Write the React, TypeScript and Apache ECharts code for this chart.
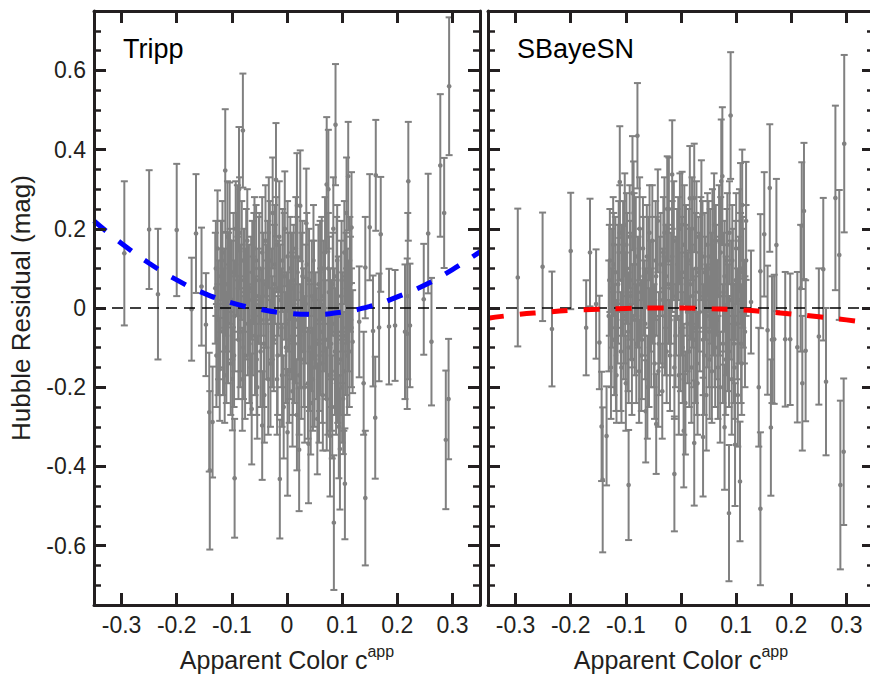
import React, { useEffect, useRef } from 'react';
import * as echarts from 'echarts';

// ---------- data: [colour, residual, error] ----------
const trippOuter: number[][] = [
  [-0.295, 0.138, 0.182], [-0.25, 0.198, 0.15], [-0.234, 0.035, 0.165], [-0.2, 0.197, 0.167],
  [-0.173, -0.003, 0.13], [-0.165, 0.188, 0.15], [-0.155, 0.054, 0.149], [-0.147, -0.042, 0.13],
  [-0.14, -0.41, 0.2], [-0.141, -0.263, 0.15], [-0.135, -0.288, 0.14], [-0.112, 0.347, 0.155],
  [-0.095, -0.43, 0.15], [-0.087, 0.30, 0.157], [-0.08, 0.448, 0.144], [-0.064, -0.255, 0.14],
  [-0.045, -0.297, 0.137], [-0.02, 0.324, 0.143], [-0.013, -0.432, 0.15], [0.001, -0.314, 0.16],
  [0.018, 0.259, 0.132], [0.022, -0.358, 0.155], [0.024, 0.258, 0.14], [0.035, 0.214, 0.138],
  [0.039, -0.343, 0.15], [0.072, 0.312, 0.17], [0.075, 0.30, 0.15], [0.078, -0.323, 0.153],
  [0.085, -0.542, 0.17], [0.088, 0.463, 0.153], [0.096, -0.356, 0.153], [0.105, -0.444, 0.14],
  [0.108, 0.24, 0.14], [0.111, 0.333, 0.137], [0.117, 0.203, 0.14], [0.119, -0.085, 0.13],
  [0.131, -0.035, 0.14], [0.139, -0.19, 0.13], [0.142, 0.102, 0.128], [0.142, -0.48, 0.17],
  [0.15, 0.204, 0.134], [0.156, -0.058, 0.14], [0.16, -0.277, 0.154], [0.161, 0.335, 0.14],
  [0.167, -0.049, 0.136], [0.17, 0.186, 0.145], [0.185, -0.047, 0.146], [0.196, -0.044, 0.14],
  [0.214, -0.06, 0.17], [0.218, -0.065, 0.19], [0.219, 0.03, 0.21], [0.22, 0.32, 0.15],
  [0.223, -0.044, 0.156], [0.248, 0.022, 0.14], [0.256, 0.188, 0.151], [0.262, -0.085, 0.161],
  [0.278, 0.36, 0.18], [0.285, 0.24, 0.139], [0.288, -0.333, 0.175], [0.293, -0.23, 0.152],
  [0.294, 0.56, 0.174],
];

const trippCore: number[][] = [
  [-0.130, 0.05, 0.14], [-0.128, -0.12, 0.13], [-0.126, 0.15, 0.147], [-0.124, -0.03, 0.15],
  [-0.122, -0.155, 0.13], [-0.120, 0.08, 0.14], [-0.118, 0.12, 0.10], [-0.116, -0.06, 0.16],
  [-0.114, 0.02, 0.13], [-0.110, -0.10, 0.14], [-0.108, 0.18, 0.14], [-0.106, 0.04, 0.15],
  [-0.104, 0.17, 0.147], [-0.102, -0.14, 0.13], [-0.099, -0.179, 0.13], [-0.097, 0.09, 0.15],
  [-0.095, -0.02, 0.14], [-0.092, 0.11, 0.13], [-0.090, 0.16, 0.15], [-0.088, -0.08, 0.15],
  [-0.086, 0.19, 0.14], [-0.084, 0.0, 0.16], [-0.081, -0.18, 0.13], [-0.078, 0.07, 0.13],
  [-0.076, -0.12, 0.16], [-0.074, 0.13, 0.12], [-0.071, -0.04, 0.13], [-0.069, 0.02, 0.14],
  [-0.066, -0.15, 0.12], [-0.063, 0.09, 0.13], [-0.060, 0.10, 0.14], [-0.058, -0.07, 0.15],
  [-0.056, 0.12, 0.14], [-0.054, -0.20, 0.13], [-0.052, 0.03, 0.12], [-0.050, 0.10, 0.14],
  [-0.048, -0.11, 0.14], [-0.043, 0.06, 0.13], [-0.041, -0.22, 0.12], [-0.039, 0.17, 0.14],
  [-0.037, -0.03, 0.15], [-0.035, 0.09, 0.13], [-0.033, 0.19, 0.14], [-0.030, -0.14, 0.16],
  [-0.028, 0.01, 0.14], [-0.026, 0.24, 0.14], [-0.024, -0.08, 0.13], [-0.022, 0.11, 0.15],
  [-0.018, -0.18, 0.14], [-0.016, 0.05, 0.12], [-0.014, 0.18, 0.14], [-0.010, -0.05, 0.15],
  [-0.008, 0.12, 0.13], [-0.006, -0.25, 0.13], [-0.004, 0.20, 0.145], [-0.002, -0.10, 0.14],
  [0.002, 0.04, 0.15], [0.004, -0.16, 0.13], [0.006, 0.10, 0.13], [0.008, -0.02, 0.16],
  [0.010, -0.21, 0.14], [0.012, 0.07, 0.14], [0.014, -0.09, 0.15], [0.016, 0.15, 0.13],
  [0.018, -0.27, 0.14], [0.020, 0.00, 0.13], [0.026, -0.13, 0.15], [0.028, 0.08, 0.14],
  [0.030, -0.05, 0.15], [0.032, -0.20, 0.14], [0.036, 0.11, 0.13], [0.041, -0.10, 0.16],
  [0.043, -0.24, 0.13], [0.045, 0.03, 0.14], [0.048, 0.12, 0.14], [0.050, -0.15, 0.15],
  [0.052, -0.03, 0.12], [0.055, -0.28, 0.14], [0.057, 0.06, 0.15], [0.059, -0.12, 0.14],
  [0.061, -0.06, 0.16], [0.063, 0.10, 0.13], [0.065, -0.22, 0.14], [0.067, -0.01, 0.15],
  [0.069, 0.14, 0.14], [0.074, -0.17, 0.15], [0.076, 0.04, 0.14], [0.080, -0.09, 0.16],
  [0.082, -0.25, 0.13], [0.084, 0.20, 0.13], [0.086, -0.04, 0.14], [0.090, 0.08, 0.15],
  [0.092, -0.14, 0.15], [0.094, -0.30, 0.13], [0.098, 0.03, 0.14], [0.100, -0.20, 0.14],
  [0.102, -0.229, 0.14], [0.104, 0.14, 0.13], [0.106, -0.07, 0.15], [0.110, 0.02, 0.13],
  [0.113, -0.11, 0.14], [0.115, 0.06, 0.12],
];

const trippCore2: number[][] = [
  [-0.129, 0.10, 0.12], [-0.125, -0.08, 0.14], [-0.121, 0.00, 0.15], [-0.117, 0.14, 0.13],
  [-0.113, -0.17, 0.12], [-0.111, 0.06, 0.13], [-0.107, -0.04, 0.15], [-0.103, 0.08, 0.12],
  [-0.100, 0.02, 0.15], [-0.096, -0.12, 0.13], [-0.093, 0.20, 0.12], [-0.089, 0.05, 0.13],
  [-0.085, -0.06, 0.14], [-0.082, 0.12, 0.15], [-0.079, -0.10, 0.13], [-0.075, 0.01, 0.14],
  [-0.072, 0.17, 0.13], [-0.068, -0.09, 0.15], [-0.065, 0.05, 0.13], [-0.062, -0.02, 0.15],
  [-0.059, 0.15, 0.13], [-0.055, -0.13, 0.14], [-0.051, 0.07, 0.16], [-0.047, -0.03, 0.13],
  [-0.045, 0.14, 0.14], [-0.042, -0.09, 0.16], [-0.038, 0.03, 0.13], [-0.034, -0.18, 0.14],
  [-0.031, 0.12, 0.15], [-0.027, -0.06, 0.14], [-0.023, 0.06, 0.15], [-0.019, 0.16, 0.12],
  [-0.017, -0.12, 0.15], [-0.012, 0.02, 0.14], [-0.009, -0.17, 0.13], [-0.005, 0.08, 0.16],
  [-0.001, -0.04, 0.13], [0.001, 0.13, 0.14], [0.005, -0.08, 0.15], [0.009, 0.05, 0.14],
  [0.011, -0.13, 0.14], [0.015, -0.03, 0.16], [0.019, 0.09, 0.14], [0.022, -0.17, 0.15],
  [0.024, -0.07, 0.13], [0.027, 0.04, 0.15], [0.031, -0.11, 0.14], [0.034, 0.01, 0.15],
  [0.038, -0.19, 0.14], [0.040, 0.07, 0.13], [0.044, -0.06, 0.15], [0.047, -0.18, 0.13],
  [0.049, 0.02, 0.15], [0.054, -0.09, 0.14], [0.058, -0.21, 0.13], [0.060, 0.09, 0.13],
  [0.064, -0.14, 0.15], [0.066, 0.03, 0.14], [0.070, -0.08, 0.15], [0.072, -0.23, 0.13],
  [0.075, 0.10, 0.14], [0.078, -0.04, 0.14], [0.081, -0.16, 0.15], [0.083, 0.06, 0.13],
  [0.087, -0.11, 0.16], [0.089, -0.19, 0.13], [0.091, 0.12, 0.14], [0.093, -0.02, 0.15],
  [0.097, -0.13, 0.14], [0.099, 0.07, 0.15], [0.101, -0.05, 0.14], [0.103, -0.16, 0.15],
  [0.107, 0.05, 0.14], [0.109, -0.12, 0.15], [0.112, -0.02, 0.14], [0.114, 0.10, 0.13],
  [0.117, -0.05, 0.15],
];

const sbOuter: number[][] = [
  [-0.296, 0.077, 0.174], [-0.251, 0.104, 0.137], [-0.234, -0.053, 0.145], [-0.2, 0.144, 0.147],
  [-0.172, -0.05, 0.12], [-0.165, 0.14, 0.136], [-0.154, 0.01, 0.138], [-0.148, -0.087, 0.118],
  [-0.144, -0.299, 0.138], [-0.142, -0.434, 0.183], [-0.135, -0.323, 0.125], [-0.111, 0.318, 0.141],
  [-0.095, -0.447, 0.139], [-0.088, 0.29, 0.144], [-0.079, 0.435, 0.133], [-0.064, -0.261, 0.129],
  [-0.045, -0.293, 0.126], [-0.025, 0.25, 0.133], [-0.016, 0.337, 0.137], [-0.012, -0.419, 0.145],
  [0.002, 0.21, 0.134], [0.005, -0.31, 0.143], [0.016, 0.277, 0.132], [0.024, 0.278, 0.137],
  [0.024, -0.341, 0.158], [0.037, 0.236, 0.137], [0.04, -0.326, 0.15], [0.073, 0.32, 0.156],
  [0.075, 0.333, 0.174], [0.079, -0.301, 0.158], [0.087, -0.518, 0.172], [0.09, 0.486, 0.16],
  [0.098, -0.345, 0.155], [0.107, -0.438, 0.151], [0.108, 0.22, 0.146], [0.111, 0.26, 0.14],
  [0.118, 0.22, 0.149], [0.127, 0.015, 0.13], [0.141, -0.2, 0.15], [0.144, 0.093, 0.144],
  [0.144, -0.507, 0.193], [0.151, 0.186, 0.157], [0.157, -0.056, 0.163], [0.161, 0.303, 0.161],
  [0.163, -0.302, 0.172], [0.165, -0.08, 0.16], [0.169, -0.079, 0.163], [0.173, 0.159, 0.167],
  [0.189, -0.079, 0.17], [0.198, -0.079, 0.166], [0.211, -0.099, 0.19], [0.217, 0.05, 0.16],
  [0.219, 0.208, 0.16], [0.22, -0.19, 0.17], [0.223, 0.245, 0.172], [0.226, -0.108, 0.178],
  [0.25, -0.072, 0.172], [0.258, 0.098, 0.18], [0.263, -0.186, 0.186], [0.28, 0.278, 0.233],
  [0.287, 0.134, 0.164], [0.289, -0.447, 0.213], [0.295, -0.363, 0.185], [0.296, 0.415, 0.224],
];

const sbCore: number[][] = [
  [-0.131, -0.02, 0.14], [-0.129, 0.12, 0.13], [-0.127, -0.15, 0.13], [-0.125, 0.05, 0.15],
  [-0.123, 0.16, 0.12], [-0.121, -0.08, 0.14], [-0.119, 0.09, 0.14], [-0.117, -0.17, 0.12],
  [-0.115, 0.01, 0.15], [-0.113, 0.14, 0.13], [-0.109, -0.11, 0.15], [-0.107, 0.07, 0.14],
  [-0.104, -0.02, 0.16], [-0.102, 0.21, 0.13], [-0.100, -0.19, 0.12], [-0.098, 0.10, 0.14],
  [-0.096, -0.06, 0.15], [-0.093, 0.18, 0.13], [-0.091, 0.03, 0.16], [-0.089, -0.13, 0.14],
  [-0.086, 0.24, 0.13], [-0.084, -0.03, 0.14], [-0.082, 0.13, 0.15], [-0.076, -0.16, 0.13],
  [-0.074, 0.06, 0.14], [-0.071, -0.08, 0.15], [-0.069, 0.15, 0.13], [-0.066, 0.00, 0.12],
  [-0.061, -0.20, 0.13], [-0.059, 0.09, 0.14], [-0.057, 0.19, 0.12], [-0.054, -0.05, 0.15],
  [-0.051, 0.04, 0.13], [-0.048, -0.14, 0.14], [-0.046, 0.12, 0.15], [-0.042, 0.22, 0.13],
  [-0.040, -0.09, 0.13], [-0.038, 0.02, 0.16], [-0.034, -0.21, 0.12], [-0.032, 0.14, 0.14],
  [-0.029, -0.02, 0.15], [-0.027, 0.08, 0.13], [-0.022, 0.25, 0.13], [-0.020, -0.12, 0.14],
  [-0.018, 0.05, 0.14], [-0.013, 0.17, 0.15], [-0.010, -0.07, 0.13], [-0.007, 0.11, 0.14],
  [-0.004, -0.17, 0.15], [-0.002, 0.20, 0.14], [0.001, 0.01, 0.13], [0.003, -0.10, 0.14],
  [0.006, 0.16, 0.15], [0.008, -0.24, 0.13], [0.010, 0.07, 0.14], [0.012, -0.04, 0.15],
  [0.014, 0.12, 0.13], [0.019, -0.15, 0.14], [0.021, 0.03, 0.13], [0.026, -0.08, 0.16],
  [0.028, 0.18, 0.14], [0.030, -0.19, 0.13], [0.032, 0.09, 0.14], [0.034, -0.01, 0.15],
  [0.039, 0.13, 0.14], [0.042, -0.12, 0.15], [0.044, 0.05, 0.13], [0.046, -0.22, 0.14],
  [0.048, 0.16, 0.13], [0.051, -0.06, 0.14], [0.053, 0.10, 0.15], [0.056, -0.16, 0.13],
  [0.058, 0.02, 0.14], [0.060, 0.21, 0.13], [0.062, -0.10, 0.15], [0.064, 0.07, 0.14],
  [0.066, -0.03, 0.15], [0.069, 0.17, 0.14], [0.071, -0.20, 0.14], [0.077, 0.04, 0.15],
  [0.081, -0.13, 0.14], [0.083, 0.12, 0.13], [0.085, -0.05, 0.16], [0.088, 0.19, 0.13],
  [0.092, -0.18, 0.14], [0.094, 0.06, 0.14], [0.096, -0.09, 0.15], [0.100, 0.15, 0.14],
  [0.103, -0.22, 0.13], [0.105, 0.02, 0.16], [0.108, 0.10, 0.14], [0.110, -0.14, 0.13],
  [0.113, 0.05, 0.15], [0.116, -0.06, 0.14],
];

const sbCore2: number[][] = [
  [-0.130, 0.07, 0.14], [-0.126, -0.05, 0.15], [-0.122, 0.11, 0.13], [-0.118, -0.12, 0.14],
  [-0.114, 0.06, 0.15], [-0.111, 0.19, 0.12], [-0.108, -0.15, 0.14], [-0.105, 0.12, 0.15],
  [-0.101, 0.00, 0.14], [-0.099, 0.16, 0.13], [-0.095, -0.10, 0.14], [-0.092, 0.07, 0.15],
  [-0.088, -0.02, 0.13], [-0.085, 0.15, 0.14], [-0.081, -0.09, 0.15], [-0.078, 0.04, 0.14],
  [-0.075, 0.20, 0.13], [-0.072, -0.12, 0.14], [-0.068, 0.08, 0.15], [-0.065, -0.04, 0.14],
  [-0.062, 0.13, 0.13], [-0.058, -0.10, 0.15], [-0.055, 0.03, 0.14], [-0.052, 0.17, 0.14],
  [-0.049, -0.07, 0.13], [-0.045, 0.08, 0.15], [-0.041, -0.16, 0.14], [-0.037, 0.11, 0.13],
  [-0.033, 0.00, 0.15], [-0.030, 0.19, 0.14], [-0.026, -0.11, 0.13], [-0.023, 0.06, 0.15],
  [-0.019, -0.03, 0.14], [-0.016, 0.13, 0.14], [-0.012, -0.15, 0.13], [-0.009, 0.03, 0.15],
  [-0.005, 0.15, 0.13], [-0.001, -0.06, 0.15], [0.002, 0.09, 0.14], [0.005, -0.18, 0.14],
  [0.009, 0.13, 0.13], [0.011, -0.01, 0.15], [0.015, -0.11, 0.14], [0.017, 0.06, 0.14],
  [0.020, 0.20, 0.13], [0.023, -0.05, 0.15], [0.027, 0.10, 0.14], [0.029, -0.14, 0.13],
  [0.033, 0.04, 0.15], [0.036, 0.15, 0.13], [0.040, -0.08, 0.14], [0.043, 0.09, 0.15],
  [0.047, -0.02, 0.13], [0.050, 0.13, 0.14], [0.052, -0.13, 0.15], [0.055, 0.05, 0.14],
  [0.057, 0.17, 0.13], [0.061, -0.05, 0.15], [0.063, 0.12, 0.14], [0.067, -0.15, 0.13],
  [0.070, 0.03, 0.15], [0.072, 0.14, 0.14], [0.076, -0.09, 0.15], [0.079, 0.08, 0.14],
  [0.082, -0.02, 0.15], [0.084, 0.16, 0.13], [0.087, -0.11, 0.14], [0.091, 0.02, 0.15],
  [0.093, 0.12, 0.14], [0.097, -0.15, 0.13], [0.099, 0.07, 0.15], [0.102, -0.04, 0.14],
  [0.106, 0.17, 0.13], [0.109, -0.09, 0.15], [0.112, 0.09, 0.14], [0.115, -0.01, 0.13],
  [0.118, 0.12, 0.14],
];

const trippCurve: number[][] = [
  [-0.35, 0.22], [-0.3, 0.163], [-0.25, 0.113], [-0.2, 0.071], [-0.15, 0.037], [-0.1, 0.013],
  [-0.05, -0.003], [0, -0.013], [0.05, -0.016], [0.1, -0.01], [0.15, 0.004], [0.2, 0.028],
  [0.25, 0.058], [0.3, 0.097], [0.35, 0.142],
];
const sbCurve: number[][] = [
  [-0.35, -0.026], [-0.3, -0.017], [-0.25, -0.011], [-0.2, -0.006], [-0.15, -0.003], [-0.1, -0.001],
  [-0.05, 0.0], [0, 0.0], [0.05, -0.002], [0.1, -0.004], [0.15, -0.009], [0.2, -0.015],
  [0.25, -0.022], [0.3, -0.03], [0.35, -0.039],
];
const zeroLine: number[][] = [[-0.35, 0], [0.35, 0]];

const panelNames = ['Tripp', 'SBayeSN'];
const xRange = [-0.35, 0.35];
const yRange = [-0.75, 0.75];
const xTitle = 'Apparent Color c{sup|app}';
const yTitle = 'Hubble Residual (mag)';

const GRAY = '#808080';
const INK = '#231f20';
const FONT = 'Liberation Sans';

function fmt(v: number, lim: number) {
  if (Math.abs(v) > lim) return '';
  const r = Number(v.toFixed(2));
  return r === 0 ? '0' : String(r);
}

function errorBars(data: number[][], idx: number) {
  return {
    type: 'custom',
    xAxisIndex: idx * 2,
    yAxisIndex: idx * 2,
    clip: true,
    silent: true,
    z: 2,
    data,
    renderItem: (_p: any, api: any) => {
      const x = api.value(0), y = api.value(1), e = api.value(2);
      const t = api.coord([x, y + e]);
      const b = api.coord([x, y - e]);
      const m = api.coord([x, y]);
      const st = { stroke: GRAY, lineWidth: 2 };
      return {
        type: 'group',
        children: [
          { type: 'line', shape: { x1: t[0], y1: t[1], x2: b[0], y2: b[1] }, style: st },
          { type: 'line', shape: { x1: t[0] - 3.5, y1: t[1], x2: t[0] + 3.5, y2: t[1] }, style: st },
          { type: 'line', shape: { x1: b[0] - 3.5, y1: b[1], x2: b[0] + 3.5, y2: b[1] }, style: st },
          { type: 'circle', shape: { cx: m[0], cy: m[1], r: 2.3 }, style: { fill: GRAY } },
        ],
      };
    },
  };
}

function makeXAxes(g: number) {
  const base = {
    type: 'value', gridIndex: g, min: xRange[0], max: xRange[1],
    splitNumber: 7, minInterval: 0.1, maxInterval: 0.1, z: 10,
    axisLine: { show: true, onZero: false, lineStyle: { color: INK, width: 3 } },
    axisTick: { show: true, inside: true, length: 12, lineStyle: { color: INK, width: 3 } },
    splitLine: { show: false },
  };
  return [
    {
      ...base, position: 'bottom',
      axisLabel: {
        show: true, margin: 8, fontSize: 23, fontFamily: FONT, color: INK,
        showMinLabel: false, showMaxLabel: false, formatter: (v: number) => fmt(v, 0.34),
      },
      name: xTitle, nameLocation: 'middle', nameGap: 38,
      nameTextStyle: {
        fontSize: 25, fontFamily: FONT, color: INK,
        rich: { sup: { fontSize: 16, fontFamily: FONT, color: INK, padding: [0, 0, 18, 0] } },
      },
    },
    { ...base, position: 'top', axisLabel: { show: false } },
  ];
}

function makeYAxes(g: number) {
  const base = {
    type: 'value', gridIndex: g, min: yRange[0], max: yRange[1],
    splitNumber: 8, minInterval: 0.2, maxInterval: 0.2, z: 10,
    axisLine: { show: true, onZero: false, lineStyle: { color: INK, width: 3 } },
    axisTick: { show: true, inside: true, length: 12, lineStyle: { color: INK, width: 3 } },
    minorTick: { show: true, splitNumber: 4, length: 7, lineStyle: { color: INK, width: 2.5 } },
    splitLine: { show: false },
    minorSplitLine: { show: false },
  };
  const left: any = {
    ...base, position: 'left',
    axisLabel: {
      show: g === 0, margin: 8, fontSize: 23, fontFamily: FONT, color: INK,
      showMinLabel: false, showMaxLabel: false, formatter: (v: number) => fmt(v, 0.7),
    },
  };
  if (g === 0) {
    left.name = yTitle;
    left.nameLocation = 'middle';
    left.nameGap = 60;
    left.nameTextStyle = { fontSize: 26, fontFamily: FONT, color: INK };
  }
  return [left, { ...base, position: 'right', axisLabel: { show: false } }];
}

function curve(data: number[][], idx: number, color: string) {
  return {
    type: 'line', xAxisIndex: idx * 2, yAxisIndex: idx * 2, data, smooth: true,
    symbol: 'none', silent: true, z: 5, clip: true,
    lineStyle: { color, width: 5, type: [16, 16], cap: 'butt' },
  };
}

function zero(idx: number) {
  return {
    type: 'line', xAxisIndex: idx * 2, yAxisIndex: idx * 2, data: zeroLine,
    symbol: 'none', silent: true, z: 4,
    lineStyle: { color: '#000', width: 1.5, type: [11, 7] },
  };
}

export default function App() {
  const ref = useRef<HTMLDivElement>(null);
  useEffect(() => {
    if (!ref.current) return;
    const chart = echarts.init(ref.current, undefined, { renderer: 'svg' });
    const grids = [
      { left: 94, top: 11, width: 386, height: 594, containLabel: false, outerBoundsMode: 'none' },
      { left: 488, top: 11, width: 386, height: 594, containLabel: false, outerBoundsMode: 'none' },
    ];
    chart.setOption({
      animation: false,
      backgroundColor: '#fff',
      grid: grids,
      xAxis: [...makeXAxes(0), ...makeXAxes(1)],
      yAxis: [...makeYAxes(0), ...makeYAxes(1)],
      graphic: [
        { type: 'text', x: 123, y: 49, z: 20, style: { text: panelNames[0], font: `27px "${FONT}"`, fill: '#000', verticalAlign: 'middle', textVerticalAlign: 'middle' } },
        { type: 'text', x: 517, y: 49, z: 20, style: { text: panelNames[1], font: `27px "${FONT}"`, fill: '#000', verticalAlign: 'middle', textVerticalAlign: 'middle' } },
      ],
      series: [
        errorBars(trippOuter, 0), errorBars(trippCore, 0), errorBars(trippCore2, 0),
        errorBars(sbOuter, 1), errorBars(sbCore, 1), errorBars(sbCore2, 1),
        zero(0), zero(1),
        curve(trippCurve, 0, '#0000ff'),
        curve(sbCurve, 1, '#ff0000'),
      ],
    });
    return () => chart.dispose();
  }, []);
  return (
    <div style={{ position: 'fixed', left: 0, top: 0, width: 870, height: 677, overflow: 'hidden', background: '#fff' }}>
      <div ref={ref} style={{ width: 880, height: 677 }} />
    </div>
  );
}
